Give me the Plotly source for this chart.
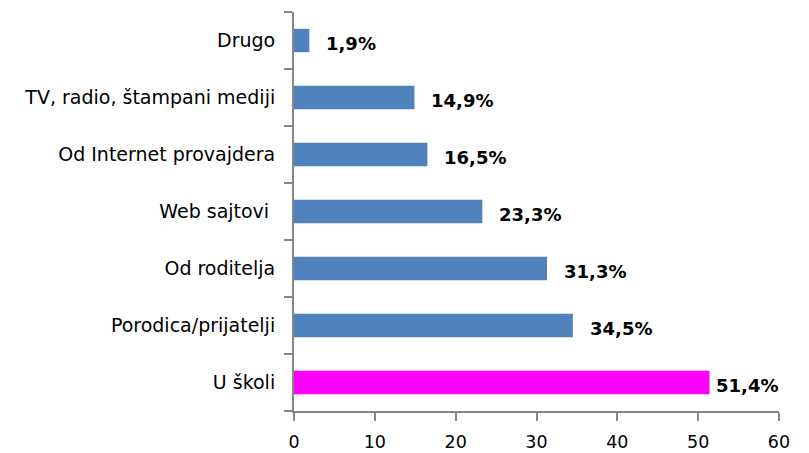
import plotly.graph_objects as go

categories = ["U školi", "Porodica/prijatelji", "Od roditelja", "Web sajtovi ",
              "Od Internet provajdera", "TV, radio, štampani mediji", "Drugo"]
values = [51.4, 34.5, 31.3, 23.3, 16.5, 14.9, 1.9]
bar_colors = ["#FF00FF"] + ["#4F81BD"] * 6

labels = [f"{v:.1f}%".replace(".", ",") for v in values]

fig = go.Figure(go.Bar(
    y=categories, x=values, orientation="h",
    marker=dict(color=bar_colors, line=dict(width=0)),
    width=0.41,
))

# value labels right of each bar (last one squeezed against the plot edge)
for cat, v, lab in zip(categories, values, labels):
    fig.add_annotation(
        x=v, y=cat, text=lab, showarrow=False, xanchor="left",
        xshift=15 if v < 45 else 5, yshift=-3,
        font=dict(family="DejaVu Sans", size=18, color="black", weight="bold"),
    )

axis_col = "#868686"
fig.update_layout(
    width=801, height=445,
    margin=dict(l=286, r=30, t=4, b=42),
    plot_bgcolor="white", paper_bgcolor="white",
    showlegend=False,
    font=dict(family="DejaVu Sans", size=18, color="black"),
    xaxis=dict(range=[0, 60], dtick=10, showgrid=False, zeroline=False,
               showline=True, linecolor=axis_col, linewidth=2,
               ticks="outside", ticklen=8, tickcolor=axis_col, tickwidth=2,
               ticklabelstandoff=6, tickfont=dict(size=17.5), automargin=False),
    yaxis=dict(showgrid=False, zeroline=False, showline=True,
               linecolor=axis_col, linewidth=2, ticks="outside", ticklen=8,
               tickcolor=axis_col, tickwidth=2, tickson="boundaries",
               ticklabelstandoff=13, tickfont=dict(size=19), automargin=False),
)

fig.write_html("out.html")
